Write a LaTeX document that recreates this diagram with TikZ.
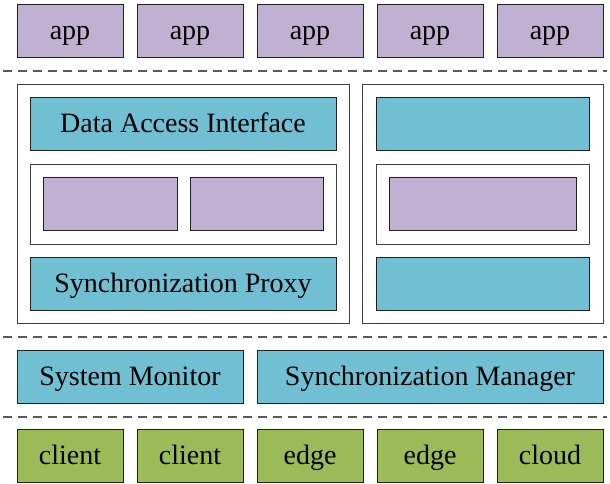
\documentclass[tikz,border=0pt]{standalone}
\usepackage{fontspec}
\setmainfont{Liberation Serif}
\definecolor{appc}{HTML}{C0B1D3}
\definecolor{cyanc}{HTML}{71BFD3}
\definecolor{greenc}{HTML}{9BBB59}
\definecolor{edgec}{HTML}{202020}
\definecolor{framec}{HTML}{404040}
\begin{document}
\begin{tikzpicture}[x=1pt,y=-1pt,
  box/.style={draw=edgec,line width=1pt,inner sep=0pt,outer sep=0pt,font=\fontsize{28}{30}\selectfont,text=black,text height=22.4pt,text depth=5.4pt},
  frame/.style={draw=framec,line width=1pt,fill=white,inner sep=0pt,outer sep=0pt},
  sep/.style={draw=gray!70!black,line width=1.1pt,dash pattern=on 9pt off 6pt}]
\useasboundingbox (0,0) rectangle (610,483);
% apps
\foreach \i/\x in {1/70,2/190,3/310,4/430,5/550}{
  \node[box,fill=appc,minimum width=106pt,minimum height=53pt] (app\i) at (\x,30.5) {app};
}
\coordinate (s1l) at (3,71); \coordinate (s1r) at (607,71);
\draw[sep] (s1l) -- (s1r);
% left container
\node[frame,minimum width=332pt,minimum height=239pt] (lbig) at (183,203.5) {};
\node[box,fill=cyanc,minimum width=306pt,minimum height=53pt] (dai) at (183,123.5) {Data Access Interface};
\node[frame,minimum width=306pt,minimum height=80pt] (lmid) at (183,204) {};
\node[box,fill=appc,minimum width=134pt,minimum height=53pt] (lp1) at (110,203.5) {};
\node[box,fill=appc,minimum width=133pt,minimum height=53pt] (lp2) at (256.5,203.5) {};
\node[box,fill=cyanc,minimum width=306pt,minimum height=53pt] (sp) at (183,283.5) {Synchronization Proxy};
% right container
\node[frame,minimum width=241pt,minimum height=239pt] (rbig) at (482.5,203.5) {};
\node[box,fill=cyanc,minimum width=213pt,minimum height=53pt] (rtop) at (482.5,123.5) {};
\node[frame,minimum width=213pt,minimum height=80pt] (rmid) at (482.5,204) {};
\node[box,fill=appc,minimum width=187pt,minimum height=53pt] (rp) at (482.5,203.5) {};
\node[box,fill=cyanc,minimum width=213pt,minimum height=53pt] (rbot) at (482.5,283.5) {};
\coordinate (s2l) at (3,337); \coordinate (s2r) at (607,337);
\draw[sep] (s2l) -- (s2r);
% middle row
\node[box,fill=cyanc,minimum width=226pt,minimum height=53pt] (sm) at (130,376.5) {System Monitor};
\node[box,fill=cyanc,minimum width=346pt,minimum height=53pt] (sman) at (430,376.5) {Synchronization Manager};
\coordinate (s3l) at (3,417); \coordinate (s3r) at (607,417);
\draw[sep] (s3l) -- (s3r);
% bottom row
\foreach \i/\x/\t in {1/70/client,2/190/client,3/310/edge,4/430/edge,5/550/cloud}{
  \node[box,fill=greenc,minimum width=106pt,minimum height=53pt] (dev\i) at (\x,455.5) {\t};
}
\end{tikzpicture}
\end{document}
